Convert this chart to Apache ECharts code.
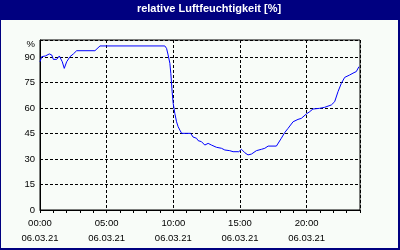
<!DOCTYPE html>
<html><head><meta charset="utf-8">
<script src="https://cdn.jsdelivr.net/npm/echarts@6/dist/echarts.min.js"></script>
<style>html,body{margin:0;padding:0;background:#f8fcf8}#c{width:400px;height:250px}</style>
</head><body><div id="c"></div>
<script>
const titleText = 'relative Luftfeuchtigkeit [%]';
const dateLabel = '06.03.21';
const hours = [0.00,0.13,0.40,0.70,0.88,1.00,1.25,1.45,1.57,1.67,1.82,2.00,2.25,2.50,2.75,4.12,4.50,9.36,9.49,9.61,9.74,9.81,9.91,9.99,10.11,10.24,10.36,10.49,10.62,11.30,11.48,11.74,11.86,12.11,12.36,12.61,12.86,13.23,13.61,13.86,14.23,14.48,14.91,15.11,15.36,15.60,15.86,16.23,16.61,16.86,17.11,17.73,17.85,18.10,18.35,18.60,18.98,19.35,19.60,19.98,20.22,20.47,20.97,21.35,21.85,22.10,22.35,22.60,22.85,23.22,23.55,23.72,23.92];
const humidity = [87.2,90.2,90.6,91.8,91.2,88.6,88.6,90.6,90.2,87.2,83.3,87.2,90.2,91.8,93.7,93.7,96.5,96.5,95.1,91.2,86.3,80.4,69.6,62.7,56.9,51.9,49.0,47.0,45.1,45.1,42.9,42.2,40.8,40.2,38.2,39.2,38.2,36.9,36.3,35.3,34.9,34.3,34.3,35.7,33.7,32.4,32.9,34.9,35.7,36.3,37.6,37.6,38.2,42.2,45.5,48.0,51.9,53.3,53.9,56.5,57.8,59.4,59.8,60.4,61.8,63.7,69.6,74.5,78.0,79.4,80.8,81.4,84.3];
const yTicks = [0,15,30,45,60,75,90];
const yTopLabel = '%';
const xLabelHours = [0,5,10,15,20];

const pad = n => (n < 10 ? '0' : '') + n;
const font = 'Liberation Sans';
const chart = echarts.init(document.getElementById('c'), null, {renderer:'canvas'});
chart.setOption({
  backgroundColor: '#f8fcf8',
  animation: false,
  grid: {left:40, top:40, right:40, bottom:40, show:true, borderColor:'#000', borderWidth:1},
  graphic: [
    {type:'rect', shape:{x:0,y:0,width:400,height:20}, style:{fill:'#000080'}, z:10},
    {type:'rect', shape:{x:0,y:0,width:1,height:250}, style:{fill:'#000080'}, z:10},
    {type:'rect', shape:{x:398,y:0,width:2,height:250}, style:{fill:'#000080'}, z:10},
    {type:'rect', shape:{x:0,y:248,width:400,height:2}, style:{fill:'#000080'}, z:10},
    {type:'text', z:11, style:{x:209, y:9, text:titleText, fill:'#fff', font:'bold 11px "Liberation Sans"', textAlign:'center', textVerticalAlign:'middle'}}
  ],
  xAxis: [
    {type:'value', min:0, max:24, interval:5, position:'bottom',
     axisLine:{show:true, lineStyle:{color:'#000'}},
     axisTick:{show:false},
     splitLine:{show:true, lineStyle:{color:'#000', type:[3,2], width:1}},
     axisLabel:{color:'#000', fontFamily:font, fontSize:9.5, lineHeight:15, margin:6, showMaxLabel:false,
       formatter: v => xLabelHours.includes(v) ? pad(v)+':00\n'+dateLabel : ''}},
    {type:'value', min:0, max:24, interval:1, position:'bottom',
     axisLine:{show:false},
     axisTick:{show:true, length:3, lineStyle:{color:'#000'}},
     splitLine:{show:false}, axisLabel:{show:false}}
  ],
  yAxis: {type:'value', min:0, max:100, interval:15,
    axisLine:{show:true, lineStyle:{color:'#000'}},
    axisTick:{show:false},
    splitLine:{show:true, lineStyle:{color:'#000', type:[3,2], width:1}},
    axisLabel:{color:'#000', fontFamily:font, fontSize:9.5, margin:5,
      rich:{p:{padding:[8,0,0,0], fontFamily:font, fontSize:9.5, color:'#000'}},
      formatter: v => yTicks.includes(v) ? String(v) : (v === 100 ? '{p|' + yTopLabel + '}' : '')}},
  series: [{type:'line', xAxisIndex:0, data: hours.map((h,i)=>[h, humidity[i]]),
    showSymbol:false, lineStyle:{color:'#0000ff', width:1}, itemStyle:{color:'#0000ff'}}]
});
</script></body></html>
